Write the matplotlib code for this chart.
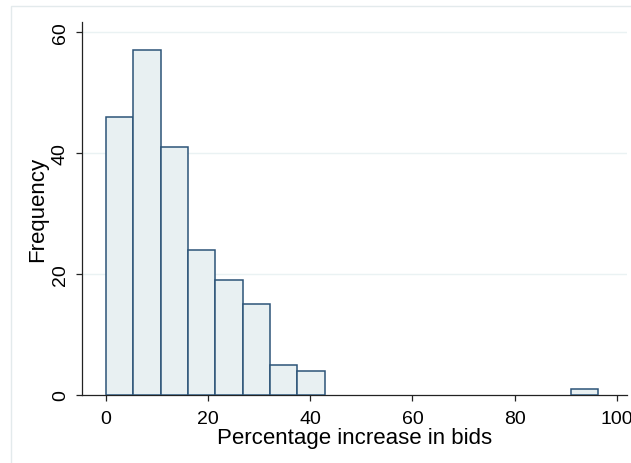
import matplotlib
matplotlib.use("Agg")
import matplotlib.pyplot as plt
from matplotlib.patches import Rectangle

# Data
bin_width = 5.35
counts = [46, 57, 41, 24, 19, 15, 5, 4, 0, 0, 0, 0, 0, 0, 0, 0, 0, 1]
x_ticks = [0, 20, 40, 60, 80, 100]
y_ticks = [0, 20, 40, 60]
x_label = "Percentage increase in bids"
y_label = "Frequency"

plt.rcParams['font.family'] = ['Liberation Sans', 'DejaVu Sans']

W, H = 631, 464
fig = plt.figure(figsize=(W / 100, H / 100), dpi=100)
fig.patch.set_facecolor('white')

# outer frame (light)
fig.patches.append(Rectangle((11 / W, -0.2), 1.2, (1 - 7 / H) + 0.2,
                             transform=fig.transFigure, fill=False,
                             edgecolor='#e3eaec', linewidth=1.0))

left, right = 82 / W, 627 / W
bottom, top = 1 - 396 / H, 1 - 23 / H
ax = fig.add_axes([left, bottom, right - left, top - bottom])

lefts = [i * bin_width for i in range(len(counts))]
xs = [l for l, c in zip(lefts, counts) if c > 0]
hs = [c for c in counts if c > 0]
ax.bar(xs, hs, width=bin_width, align='edge', color='#e8f0f2',
       edgecolor='#2c5478', linewidth=1.1, zorder=3)

ax.set_xlim(-4.7, 102)
ax.set_ylim(0, 61.7)

for yv in y_ticks[1:]:
    ax.axhline(yv, color='#eaf2f3', linewidth=1.0, zorder=1)

for s in ['top', 'right']:
    ax.spines[s].set_visible(False)
for s in ['left', 'bottom']:
    ax.spines[s].set_color('#222222')
    ax.spines[s].set_linewidth(0.9)

ax.set_xticks(x_ticks)
ax.set_yticks(y_ticks)
ax.set_yticklabels([str(v) for v in y_ticks], rotation=90, va='center')
ax.tick_params(axis='both', direction='out', length=4.5, width=0.9,
               color='#222222', labelsize=14)
ax.tick_params(axis='x', pad=6)
ax.tick_params(axis='y', pad=5)

ax.set_xlabel(x_label, fontsize=16, labelpad=0)
ax.set_ylabel(y_label, fontsize=16, labelpad=3)

fig.savefig('out.png', dpi=100, facecolor='white')
